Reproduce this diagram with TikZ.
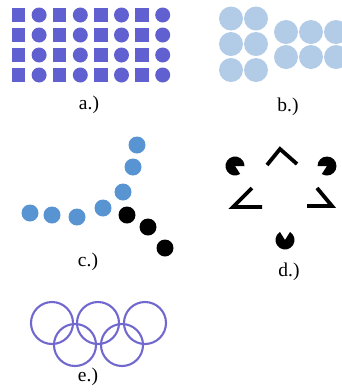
\documentclass[tikz,border=0pt]{standalone}
\usepackage{fontspec}
\setmainfont{Liberation Serif}
\usepackage{xcolor}
\definecolor{gridBlue}{RGB}{96,96,208}
\definecolor{paleBlue}{RGB}{178,204,232}
\definecolor{dotBlue}{RGB}{88,148,210}
\definecolor{ringBlue}{RGB}{112,104,206}

\begin{document}
\begin{tikzpicture}[x=1pt, y=-1pt,
    squareDot/.style={rectangle, fill=gridBlue, inner sep=0pt, minimum size=13.5pt},
    roundDot/.style={circle, fill=gridBlue, inner sep=0pt, minimum size=15pt},
    lightDot/.style={circle, fill=paleBlue, inner sep=0pt, minimum size=24pt},
    blueDot/.style={circle, fill=dotBlue, inner sep=0pt, minimum size=17pt},
    blackDot/.style={circle, fill=black, inner sep=0pt, minimum size=17pt},
    ringStyle/.style={draw=ringBlue, line width=2.1pt},
    chevronStyle/.style={line width=3.8pt},
    labelText/.style={font=\fontsize{19.5}{21}\selectfont, inner sep=0pt}
]
    \useasboundingbox (0,0) rectangle (342,392);

    % a.) squares and circles
    \foreach \j in {0,...,3} {
        \foreach \i in {0,2,4,6} {
            \node[squareDot] (sq-\i-\j) at ({18.5+20.6*\i}, {15+20*\j}) {};
        }
        \foreach \i in {1,3,5,7} {
            \node[roundDot] (rd-\i-\j) at ({18.5+20.6*\i}, {15+20*\j}) {};
        }
    }
    \node[labelText] (labA) at (89,105) {a.)};

    % b.) two groups
    \begin{scope}
        \clip (0,0) rectangle (342,392);
        \foreach \x [count=\i] in {231,256} {
            \foreach \y [count=\j] in {18.5,44,70} {
                \node[lightDot] (lb-\i-\j) at (\x,\y) {};
            }
        }
        \foreach \x [count=\i] in {286,311,336} {
            \foreach \y [count=\j] in {32,57} {
                \node[lightDot] (rb-\i-\j) at (\x,\y) {};
            }
        }
    \end{scope}
    \node[labelText] (labB) at (288,107) {b.)};

    % c.) continuation
    \foreach \p [count=\k] in {(30,213),(52,215),(77,217),(103,208),(123,192),(133,167),(137,145)} {
        \node[blueDot] (bd-\k) at \p {};
    }
    \foreach \p [count=\k] in {(127,215),(148,227),(165,248)} {
        \node[blackDot] (kd-\k) at \p {};
    }
    \node[labelText] (labC) at (88,262) {c.)};

    % d.) illusory triangle
    \coordinate (pTL) at (235,166);
    \coordinate (pTR) at (327,166);
    \coordinate (pBot) at (285,240);
    \fill (pTL) -- ++(57:9.5) arc[start angle=57, end angle=360, radius=9.5] -- cycle;
    \fill (pTR) -- ++(180:9.5) arc[start angle=180, end angle=483, radius=9.5] -- cycle;
    \fill (pBot) -- ++(302:9.5) arc[start angle=302, end angle=598, radius=9.5] -- cycle;
    \draw[chevronStyle] (267,165) -- (280,149) -- (297,164);
    \draw[chevronStyle] (252,188) -- (233,207) -- (262,207);
    \draw[chevronStyle] (317,188) -- (332,206) -- (307,206);
    \node[labelText] (labD) at (289,272) {d.)};

    % e.) rings
    \foreach \x/\y [count=\k] in {52/323,98/323,145/323,75/345,122/345} {
        \draw[ringStyle] (\x,\y) circle[radius=21];
    }
    \node[labelText] (labE) at (88,377) {e.)};
\end{tikzpicture}
\end{document}
